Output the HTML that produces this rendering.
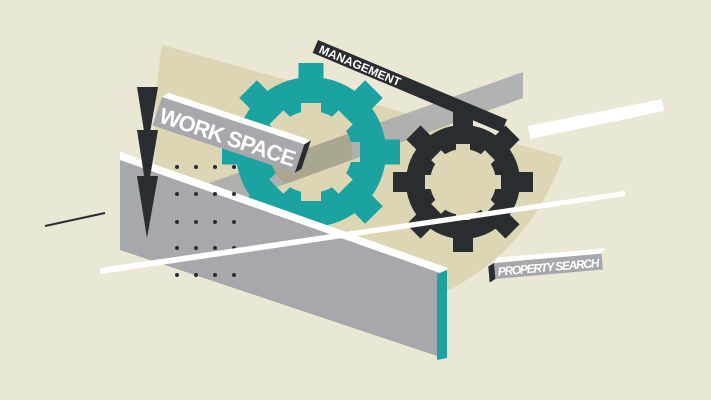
<!DOCTYPE html>
<html><head><style>html,body{margin:0;padding:0;background:#ebe7d5;}svg{display:block}</style></head>
<body>
<svg width="711" height="400" viewBox="0 0 711 400" xmlns="http://www.w3.org/2000/svg" font-family="Liberation Sans, sans-serif">
<defs>
<mask id="mt"><rect x="0" y="0" width="711" height="400" fill="#fff"/><circle cx="311" cy="152" r="41" fill="#000"/>
<g id="tn"><rect x="301" y="103" width="20" height="20" fill="#000"/><rect x="301" y="181" width="20" height="20" fill="#000"/><rect x="262" y="142" width="20" height="20" fill="#000"/><rect x="340" y="142" width="20" height="20" fill="#000"/></g>
<use href="#tn" transform="rotate(45 311 152)"/>
</mask>
<mask id="md"><rect x="0" y="0" width="711" height="400" fill="#fff"/><circle cx="463" cy="182" r="33" fill="#000"/>
<g id="dn"><rect x="456" y="144" width="14" height="14" fill="#000"/><rect x="456" y="206" width="14" height="14" fill="#000"/><rect x="425" y="175" width="14" height="14" fill="#000"/><rect x="487" y="175" width="14" height="14" fill="#000"/></g>
<use href="#dn" transform="rotate(45 463 182)"/>
</mask>
<clipPath id="hole"><circle cx="311" cy="152" r="41"/></clipPath>
</defs>
<rect width="711" height="400" fill="#ebe7d5"/>
<path d="M162,45 L563,157 Q530,250 445,292 L160,230 Q148,130 162,45 Z" fill="#dcd6b4"/>
<polygon points="523,72 523,98 150,233 150,204" fill="#a7a8ab" opacity="0.85"/>
<!-- teal gear -->
<g fill="#1aa3a0" mask="url(#mt)">
<circle cx="311" cy="152" r="75"/>
<g id="tt"><rect x="298.5" y="63" width="25" height="30"/><rect x="298.5" y="211" width="25" height="30"/><rect x="222" y="139.5" width="30" height="25"/><rect x="370" y="139.5" width="30" height="25"/></g>
<use href="#tt" transform="rotate(45 311 152)"/>
</g>
<polygon points="523,72 523,98 150,233 150,204" fill="#a9a692" clip-path="url(#hole)"/>
<!-- dark gear -->
<g fill="#2a2d30" mask="url(#md)">
<circle cx="463" cy="182" r="57"/>
<g id="dt"><rect x="453" y="112" width="20" height="20"/><rect x="453" y="232" width="20" height="20"/><rect x="393" y="172" width="20" height="20"/><rect x="513" y="172" width="20" height="20"/></g>
<use href="#dt" transform="rotate(45 463 182)"/>
</g>
<!-- management -->
<g transform="translate(318,40) rotate(22.8)">
<rect x="0" y="0" width="205" height="14" fill="#2a2d30"/>
<text x="5" y="11.5" font-size="12" font-weight="bold" fill="#fff">MANAGEMENT</text>
</g>
<!-- white bar top right -->
<polygon points="528,126 662,99 664,111 530,139" fill="#fff"/>
<!-- work space bar -->
<g transform="translate(162,97) rotate(18.4)">
<polygon points="0,0 150,0 155,-6 5,-6" fill="#fff"/>
<rect x="0" y="0" width="150" height="30" fill="#a7a8ab"/>
<polygon points="150,0 155,-6 155,24 150,30" fill="#2a2d30"/>
<text x="4" y="25" font-size="22" font-weight="bold" fill="#fff" textLength="142">WORK SPACE</text>
</g>
<!-- big gray wedge -->
<polygon points="120,157 443,272 443,358 120,250" fill="#a7a8ab"/>
<polygon points="120,152 448,268 443,274 120,160" fill="#fff"/>
<polygon points="437,274 447,270 447,358 437,360" fill="#1aa3a0"/>
<!-- dots -->
<g fill="#2a2d30">
<circle cx="177" cy="167" r="2"/><circle cx="196" cy="167" r="2"/><circle cx="215" cy="167" r="2"/><circle cx="234" cy="167" r="2"/>
<circle cx="177" cy="194" r="2"/><circle cx="196" cy="194" r="2"/><circle cx="215" cy="194" r="2"/><circle cx="234" cy="194" r="2"/>
<circle cx="177" cy="222" r="2"/><circle cx="196" cy="222" r="2"/><circle cx="215" cy="222" r="2"/><circle cx="234" cy="222" r="2"/>
<circle cx="177" cy="248" r="2"/><circle cx="196" cy="248" r="2"/><circle cx="215" cy="248" r="2"/><circle cx="234" cy="248" r="2"/>
<circle cx="177" cy="275" r="2"/><circle cx="196" cy="275" r="2"/><circle cx="215" cy="275" r="2"/><circle cx="234" cy="275" r="2"/>
</g>
<!-- thin white line -->
<polygon points="100,268 625,191 625,196 100,274" fill="#fff"/>
<!-- small dark line -->
<line x1="45" y1="226" x2="105" y2="213" stroke="#2a2d30" stroke-width="2"/>
<!-- arrows -->
<g fill="#2a2d30">
<polygon points="137,87 158,87 147,150"/>
<polygon points="137,130 158,130 147,195"/>
<polygon points="137,176 158,176 147,238"/>
</g>
<!-- property search -->
<g transform="translate(494,263) rotate(-5)">
<polygon points="0,0 108,0 112,-5 4,-5" fill="#fff"/>
<rect x="0" y="0" width="108" height="16" fill="#a7a8ab"/>
<polygon points="0,0 -6,3 -6,19 0,16" fill="#2a2d30"/>
<text x="3" y="13" font-size="12" font-weight="bold" font-style="italic" fill="#fff" textLength="102">PROPERTY SEARCH</text>
</g>
</svg>
</body></html>
